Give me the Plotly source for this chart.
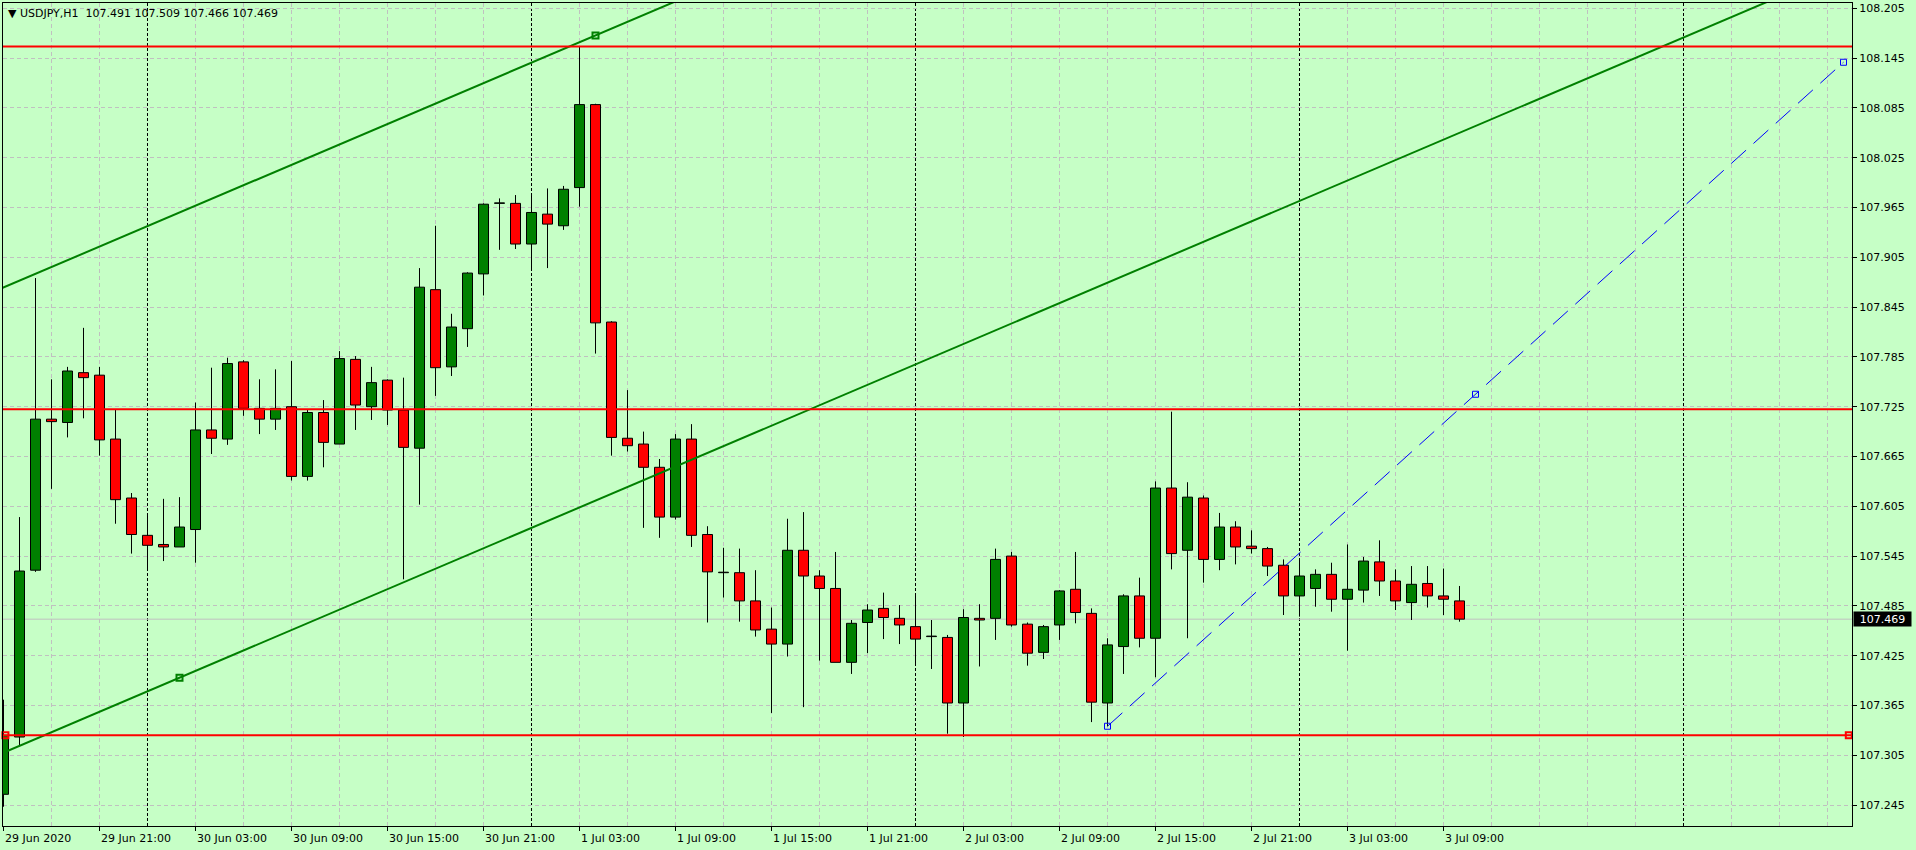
import plotly.graph_objects as go

# ---------------- data (USDJPY, H1) ----------------
symbol = "USDJPY,H1"
bar_index = list(range(92))  # bar 0 = 29 Jun 2020 15:00, hourly

opens = [107.258, 107.327, 107.528, 107.710, 107.706, 107.766, 107.763, 107.686, 107.615, 107.570,
         107.559, 107.556, 107.577, 107.697, 107.686, 107.779, 107.723, 107.710, 107.725, 107.641,
         107.718, 107.680, 107.782, 107.725, 107.757, 107.721, 107.675, 107.866, 107.773, 107.819,
         107.885, 107.970, 107.970, 107.921, 107.957, 107.943, 107.989, 108.089, 107.827, 107.687,
         107.680, 107.652, 107.592, 107.686, 107.571, 107.525, 107.525, 107.491, 107.457, 107.439,
         107.552, 107.521, 107.506, 107.417, 107.465, 107.482, 107.470, 107.460, 107.448, 107.447,
         107.368, 107.470, 107.470, 107.545, 107.463, 107.429, 107.462, 107.505, 107.476, 107.368,
         107.436, 107.497, 107.446, 107.627, 107.552, 107.615, 107.541, 107.580, 107.557, 107.554,
         107.534, 107.497, 107.506, 107.523, 107.493, 107.504, 107.538, 107.515, 107.489, 107.512,
         107.497, 107.491]
highs = [107.372, 107.592, 107.880, 107.758, 107.773, 107.820, 107.773, 107.721, 107.621, 107.594,
         107.614, 107.616, 107.730, 107.772, 107.784, 107.781, 107.758, 107.770, 107.780, 107.721,
         107.733, 107.792, 107.786, 107.773, 107.758, 107.760, 107.892, 107.943, 107.837, 107.887,
         107.970, 107.976, 107.980, 107.981, 107.988, 107.991, 108.159, 108.090, 107.828, 107.745,
         107.695, 107.662, 107.692, 107.704, 107.581, 107.555, 107.554, 107.528, 107.483, 107.590,
         107.598, 107.528, 107.550, 107.468, 107.487, 107.501, 107.486, 107.497, 107.468, 107.450,
         107.481, 107.487, 107.554, 107.550, 107.465, 107.462, 107.504, 107.550, 107.482, 107.446,
         107.499, 107.519, 107.635, 107.719, 107.634, 107.618, 107.597, 107.587, 107.576, 107.556,
         107.541, 107.540, 107.529, 107.537, 107.559, 107.544, 107.564, 107.529, 107.533, 107.533,
         107.530, 107.509]
lows = [107.243, 107.317, 107.526, 107.626, 107.688, 107.711, 107.666, 107.584, 107.548, 107.530,
        107.539, 107.556, 107.537, 107.668, 107.679, 107.714, 107.692, 107.697, 107.636, 107.636,
        107.652, 107.680, 107.697, 107.709, 107.703, 107.517, 107.607, 107.738, 107.762, 107.797,
        107.859, 107.914, 107.915, 107.892, 107.892, 107.938, 107.966, 107.789, 107.666, 107.671,
        107.579, 107.567, 107.589, 107.556, 107.465, 107.495, 107.466, 107.448, 107.356, 107.424,
        107.363, 107.419, 107.417, 107.403, 107.428, 107.445, 107.439, 107.415, 107.409, 107.331,
        107.327, 107.412, 107.444, 107.460, 107.413, 107.421, 107.444, 107.464, 107.345, 107.340,
        107.403, 107.435, 107.399, 107.529, 107.446, 107.513, 107.528, 107.535, 107.548, 107.521,
        107.474, 107.472, 107.484, 107.478, 107.431, 107.489, 107.497, 107.480, 107.468, 107.483,
        107.474, 107.466]
closes = [107.329, 107.527, 107.710, 107.707, 107.768, 107.760, 107.685, 107.613, 107.571, 107.558,
          107.556, 107.580, 107.697, 107.687, 107.777, 107.723, 107.710, 107.723, 107.641, 107.718,
          107.682, 107.783, 107.727, 107.754, 107.721, 107.676, 107.869, 107.772, 107.821, 107.886,
          107.969, 107.970, 107.921, 107.959, 107.945, 107.987, 108.089, 107.826, 107.688, 107.678,
          107.652, 107.592, 107.686, 107.570, 107.526, 107.525, 107.491, 107.456, 107.439, 107.552,
          107.521, 107.506, 107.417, 107.464, 107.480, 107.471, 107.462, 107.445, 107.448, 107.368,
          107.471, 107.468, 107.541, 107.462, 107.428, 107.460, 107.503, 107.477, 107.369, 107.438,
          107.497, 107.446, 107.627, 107.548, 107.616, 107.541, 107.580, 107.556, 107.554, 107.533,
          107.497, 107.521, 107.523, 107.493, 107.505, 107.539, 107.515, 107.491, 107.511, 107.497,
          107.493, 107.469]

tick_bars = [0, 6, 12, 18, 24, 30, 36, 42, 48, 54, 60, 66, 72, 78, 84, 90]
tick_labels = ["29 Jun 2020", "29 Jun 21:00", "30 Jun 03:00", "30 Jun 09:00", "30 Jun 15:00",
               "30 Jun 21:00", "1 Jul 03:00", "1 Jul 09:00", "1 Jul 15:00", "1 Jul 21:00",
               "2 Jul 03:00", "2 Jul 09:00", "2 Jul 15:00", "2 Jul 21:00", "3 Jul 03:00", "3 Jul 09:00"]
day_separator_bars = [9, 33, 57, 81, 105]
price_ticks = [107.245, 107.305, 107.365, 107.425, 107.485, 107.545, 107.605, 107.665, 107.725,
               107.785, 107.845, 107.905, 107.965, 108.025, 108.085, 108.145, 108.205]

# drawn objects
hline_prices = [108.159, 107.722, 107.329]
selected_hline = 107.329
channel_base_x = [11, 115]
channel_base_y = [107.3985, 108.2519]
channel_upper_anchor = (37, 108.1723)
blue_line_x = [69, 115]
blue_line_y = [107.340, 108.140]

# ---------------- styling ----------------
BG = "#c6ffc6"
BULL = "#008000"
BEAR = "#ff0000"
GRID = "#c0c0c0"
FONT = "DejaVu Sans"

x_range = [-1 / 32, 115.5625 - 1 / 32]
y_range = [107.2198, 108.2114]

fig = go.Figure()

# wicks (outside the body only)
wx, wy = [], []
for i, o, h, l, c in zip(bar_index, opens, highs, lows, closes):
    top, bot = max(o, c), min(o, c)
    if h > top:
        wx += [i, i, None]
        wy += [h, top, None]
    if l < bot:
        wx += [i, i, None]
        wy += [bot, l, None]
fig.add_trace(go.Scatter(x=wx, y=wy, mode="lines", line=dict(color="black", width=1),
                         hoverinfo="skip"))

# bodies
min_h = 0.0006
for is_bull, color in [(True, BULL), (False, BEAR)]:
    xs, bases, hs = [], [], []
    for i, o, c in zip(bar_index, opens, closes):
        if (c >= o) == is_bull:
            xs.append(i)
            bases.append(min(o, c))
            hs.append(max(abs(c - o), min_h))
    fig.add_trace(go.Bar(x=xs, y=hs, base=bases, width=0.625,
                         marker=dict(color=color, line=dict(color="black", width=1)),
                         hoverinfo="skip"))

# channel lines
slope = (channel_base_y[1] - channel_base_y[0]) / (channel_base_x[1] - channel_base_x[0])
xs_line = [-2, 120]
lower = [channel_base_y[0] + slope * (x - channel_base_x[0]) for x in xs_line]
upper = [channel_upper_anchor[1] + slope * (x - channel_upper_anchor[0]) for x in xs_line]
for ys in (lower, upper):
    fig.add_trace(go.Scatter(x=xs_line, y=ys, mode="lines", line=dict(color=BULL, width=2),
                             hoverinfo="skip"))
fig.add_trace(go.Scatter(x=[channel_base_x[0], channel_upper_anchor[0]],
                         y=[channel_base_y[0], channel_upper_anchor[1]], mode="markers",
                         marker=dict(symbol="square-open", size=6, color=BULL,
                                     line=dict(width=2, color=BULL)),
                         hoverinfo="skip"))

# blue dashed trend line with its three handles
fig.add_trace(go.Scatter(x=blue_line_x, y=blue_line_y, mode="lines",
                         line=dict(color="#0000ff", width=1, dash="20px,10px"), hoverinfo="skip"))
fig.add_trace(go.Scatter(x=[blue_line_x[0], sum(blue_line_x) / 2, blue_line_x[1]],
                         y=[blue_line_y[0], sum(blue_line_y) / 2, blue_line_y[1]], mode="markers",
                         marker=dict(symbol="square-open", size=6, color="#0000ff",
                                     line=dict(width=1, color="#0000ff")),
                         cliponaxis=False, hoverinfo="skip"))

# handles of the selected horizontal line
fig.add_trace(go.Scatter(x=[x_range[0] + 0.15, x_range[1] - 0.2], y=[selected_hline] * 2,
                         mode="markers",
                         marker=dict(symbol="square-open", size=6, color=BEAR,
                                     line=dict(width=2, color=BEAR)),
                         cliponaxis=False, hoverinfo="skip"))

shapes = []
# vertical grid every 3 bars, day separators in black
for b in range(3, 116, 3):
    sep = b in day_separator_bars
    shapes.append(dict(type="line", xref="x", yref="paper", x0=b, x1=b, y0=0, y1=1,
                       layer="below",
                       line=dict(color="black" if sep else GRID, width=1,
                                 dash="3px,2px" if sep else "4px,3px")))
# current bid line
shapes.append(dict(type="line", xref="paper", yref="y", x0=0, x1=1,
                   y0=closes[-1], y1=closes[-1], layer="below",
                   line=dict(color=GRID, width=1)))
# horizontal red levels
for p in hline_prices:
    shapes.append(dict(type="line", xref="paper", yref="y", x0=0, x1=1, y0=p, y1=p,
                       layer="above", line=dict(color=BEAR, width=2)))

annotations = []
for b, t in zip(tick_bars, tick_labels):
    annotations.append(dict(x=b, xref="x", y=0, yref="paper", xanchor="left", yanchor="middle",
                            xshift=-1, yshift=-12, text=t, showarrow=False,
                            font=dict(family=FONT, size=11, color="black")))
title = "\u25bc {}\u00a0\u00a0{:.3f} {:.3f} {:.3f} {:.3f}".format(
    symbol, opens[-1], highs[-1], lows[-1], closes[-1])
annotations.append(dict(x=0, xref="paper", y=1, yref="paper", xanchor="left", yanchor="top",
                        xshift=3, yshift=-2, text=title, showarrow=False,
                        font=dict(family=FONT, size=11, color="black")))
annotations.append(dict(x=1, xref="paper", y=closes[-1], yref="y", xanchor="left",
                        yanchor="middle", xshift=1, text="{:.3f}".format(closes[-1]),
                        showarrow=False, bgcolor="black", borderpad=1, width=55, height=12,
                        align="center", font=dict(family=FONT, size=11, color="white")))

fig.update_layout(
    template="none",
    width=1916, height=850, autosize=False,
    margin=dict(l=3, r=64, t=3, b=24, pad=0),
    paper_bgcolor=BG, plot_bgcolor=BG,
    showlegend=False, barmode="overlay",
    font=dict(family=FONT, size=11, color="black"),
    xaxis=dict(range=x_range, tickvals=tick_bars, ticks="outside", ticklen=4,
               tickcolor="black", tickwidth=1, showticklabels=False, showgrid=False,
               zeroline=False, showline=True, linecolor="black", linewidth=1, mirror=True,
               fixedrange=True, automargin=False),
    yaxis=dict(side="right", range=y_range, tickvals=price_ticks,
               ticktext=["{:.3f}".format(v) for v in price_ticks], ticks="outside", ticklen=4,
               tickcolor="black", tickwidth=1, showgrid=True, gridcolor=GRID, gridwidth=1,
               griddash="4px,3px", zeroline=False, showline=True, linecolor="black",
               linewidth=1, mirror=True, fixedrange=True, automargin=False,
               tickfont=dict(family=FONT, size=11, color="black")),
    shapes=shapes,
    annotations=annotations,
)

fig.write_html("out.html", config={"displayModeBar": False},
               post_script="document.body.style.margin='0';document.body.style.overflow='hidden';")
